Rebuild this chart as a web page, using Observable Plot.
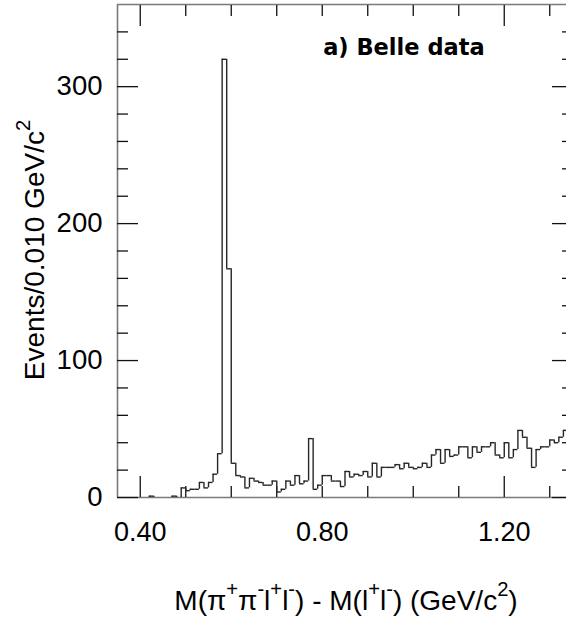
<!DOCTYPE html>
<html><head><meta charset="utf-8">
<script src="https://cdn.jsdelivr.net/npm/d3@7"></script>
<script src="https://cdn.jsdelivr.net/npm/@observablehq/plot@0.6"></script>
<style>html,body{margin:0;padding:0;background:#fff;overflow:hidden}</style>
</head><body><div id="chart"></div>
<script>
// ---- data ----
const firstBinLow = 0.35;
const binWidth = 0.010;
const counts = [
  0,0,0,0,0,0,0, 1, 0,0,0,0, 1, 0,
  7,5,6,6,11,7,11,17,32,320,167,
  25,16,15,7,14,12,11,9,9,12,
  4,6,12,9,16,10,12,43,6,9,
  16,16,12,12,8,19,15,17,16,19,
  15,25,15,22,22,22,24,21,25,22,
  21,22,25,22,31,35,25,35,30,31,
  37,37,29,37,33,37,37,40,31,29,
  40,29,35,49,44,36,22,35,37,37,
  42,40,44,49
];
const xDomain = [0.35, 1.35];
const yDomain = [0, 360];
const xMajorTicks = [0.40, 1.20];
const xMinorTicks = [0.50, 0.60, 0.70, 0.80, 0.90, 1.00, 1.10, 1.30];
const xTickLabels = [0.40, 0.80, 1.20];
const yMajorTicks = [0, 100, 200, 300];
const yMinorTicks = [20,40,60,80,120,140,160,180,220,240,260,280,320,340];
const annotation = "a) Belle data";
const yTitleParts = [["Events/0.010 GeV/c", false], ["2", true]];
const xTitleParts = [["M(π", false], ["+", true], ["π", false], ["-", true], ["l", false], ["+", true],
  ["l", false], ["-", true], [") - M(l", false], ["+", true], ["l", false], ["-", true],
  [") (GeV/c", false], ["2", true], [")", false]];

// ---- derived tables ----
const bins = counts.map((c, i) => ({lo: firstBinLow + i * binWidth, hi: firstBinLow + (i + 1) * binWidth, c}));
const tops = bins.filter(d => d.c > 0);
const edges = bins.map((d, i) => ({x: d.lo, a: i ? bins[i - 1].c : 0, b: d.c}));
edges.push({x: bins[bins.length - 1].hi, a: bins[bins.length - 1].c, b: 0});
const vEdges = edges.filter(e => e.a !== e.b);

const frameColor = "#7a7a7a";
const histColor = "#262626";
const tickColor = "#111";
const font = "'Liberation Sans', Arial, sans-serif";

const plot = Plot.plot({
  width: 566, height: 622,
  marginLeft: 117, marginRight: -6, marginTop: 4, marginBottom: 125,
  x: {domain: xDomain, range: [117, 572]},
  y: {domain: yDomain, range: [497, 4]},
  style: {fontFamily: font, background: "white", color: "black", overflow: "hidden"},
  marks: [
    Plot.ruleY([yDomain[0]], {stroke: frameColor, strokeWidth: 1.6}),
    Plot.ruleY([yDomain[1]], {stroke: frameColor, strokeWidth: 1.6}),
    Plot.ruleX([xDomain[0]], {stroke: frameColor, strokeWidth: 1.6}),
    // ticks (inward)
    Plot.axisX({ticks: xMajorTicks, anchor: "bottom", tickSize: -21, fill: "none", label: null, stroke: tickColor, strokeWidth: 1.3}),
    Plot.axisX({ticks: xMinorTicks, anchor: "bottom", tickSize: -11, fill: "none", label: null, stroke: tickColor, strokeWidth: 1.3}),
    Plot.axisX({ticks: xMajorTicks, anchor: "top", tickSize: -21, fill: "none", label: null, stroke: tickColor, strokeWidth: 1.3}),
    Plot.axisX({ticks: xMinorTicks, anchor: "top", tickSize: -11, fill: "none", label: null, stroke: tickColor, strokeWidth: 1.3}),
    Plot.axisY({ticks: yMajorTicks, anchor: "left", tickSize: -21, fill: "none", label: null, stroke: tickColor, strokeWidth: 1.3}),
    Plot.axisY({ticks: yMinorTicks, anchor: "left", tickSize: -11, fill: "none", label: null, stroke: tickColor, strokeWidth: 1.3}),
    Plot.axisY({ticks: yMajorTicks, anchor: "right", tickSize: -21, fill: "none", label: null, stroke: tickColor, strokeWidth: 1.3}),
    Plot.axisY({ticks: yMinorTicks, anchor: "right", tickSize: -11, fill: "none", label: null, stroke: tickColor, strokeWidth: 1.3}),
    // tick labels
    Plot.axisX({ticks: xTickLabels, anchor: "bottom", tickSize: 0, tickPadding: 24, tickFormat: d3.format(".2f"), fontSize: 27, label: null, fill: "black"}),
    Plot.axisY({ticks: yMajorTicks, anchor: "left", tickSize: 0, tickPadding: 15, tickFormat: d => String(d), fontSize: 27.5, label: null, fill: "black"}),
    // histogram outline
    Plot.ruleY(tops, {y: "c", x1: "lo", x2: "hi", stroke: histColor, strokeWidth: 1.4}),
    Plot.ruleX(vEdges, {x: "x", y1: "a", y2: "b", stroke: histColor, strokeWidth: 1.4}),
    // annotation
    Plot.text([annotation], {x: 0.802, y: 323, text: d => d, textAnchor: "start", lineAnchor: "bottom",
      fontFamily: "'DejaVu Sans', sans-serif", fontWeight: "bold", fontSize: 22.5, fill: "black"})
  ]
});

// rich-text axis titles with superscripts
function richText(parent, parts, size, attrs) {
  const t = parent.append("text").attr("font-family", font).attr("font-size", size).attr("fill", "black");
  Object.entries(attrs).forEach(([k, v]) => t.attr(k, v));
  const shift = 0.5 * size;
  let up = false;
  parts.forEach(([s, sup]) => {
    const ts = t.append("tspan").text(s);
    if (sup && !up) { ts.attr("dy", -shift); up = true; }
    else if (!sup && up) { ts.attr("dy", shift); up = false; }
    if (sup) ts.attr("font-size", size * 0.72);
  });
  return t;
}
const svg = d3.select(plot);
richText(svg, xTitleParts, 28, {x: 346, y: 610, "text-anchor": "middle"});
richText(svg, yTitleParts, 28, {transform: "translate(44,250) rotate(-90)", "text-anchor": "middle"});

document.getElementById("chart").appendChild(plot);
</script>
</body></html>
